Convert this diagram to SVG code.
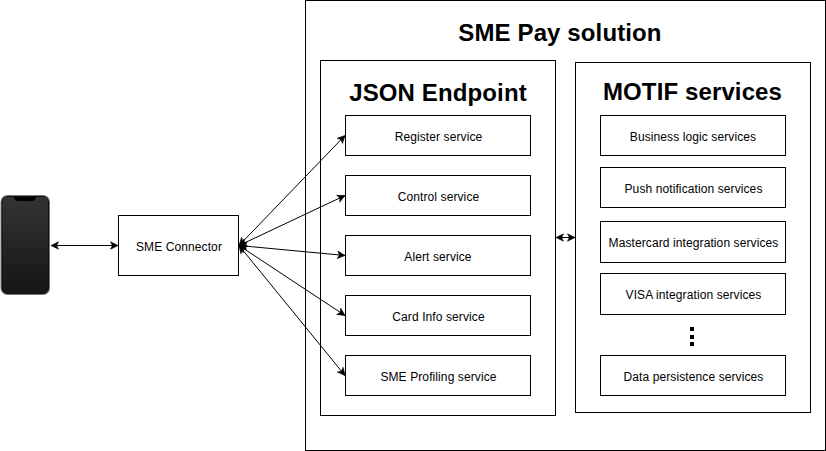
<svg xmlns="http://www.w3.org/2000/svg" width="826" height="451" viewBox="0 0 826 451">
<style>
rect.b{fill:#fff;stroke:#000;stroke-width:1}
text{font-family:"Liberation Sans",Arial,sans-serif;fill:#000;text-anchor:middle}
.s{font-size:12px;letter-spacing:.1px}
.h{font-size:24px;font-weight:bold;letter-spacing:.12px}
.c line{stroke:#000;stroke-width:1;fill:none;marker-end:url(#a);marker-start:url(#a)}
</style>
<defs>
<marker id="a" markerUnits="userSpaceOnUse" markerWidth="10" markerHeight="10" refX="9" refY="4.5" orient="auto-start-reverse" viewBox="0 0 10 9"><path d="M1.5 .8L9 4.5L1.5 8.2L3.4 4.5Z" fill="#000" stroke="#000" stroke-width=".6"/></marker>
<linearGradient id="p" x1="0" y1="0" x2="0" y2="1"><stop offset="0" stop-color="#333"/><stop offset="1" stop-color="#161616"/></linearGradient>
</defs>
<rect width="826" height="451" fill="#fff"/>
<g id="solution"><rect class="b" x="305.500" y="0.500" width="520" height="450"/><text class="h" x="560" y="41">SME Pay solution</text></g>
<g id="json-endpoint"><rect class="b" x="320.500" y="60.500" width="235" height="355"/><text class="h" x="438" y="101">JSON Endpoint</text></g>
<g id="motif-services"><rect class="b" x="575.500" y="62.500" width="235" height="350"/><text class="h" x="692.500" y="100">MOTIF services</text></g>
<g id="register"><rect class="b" x="345.500" y="115.500" width="185" height="40"/><text class="s" x="438.500" y="141">Register service</text></g>
<g id="control"><rect class="b" x="345.500" y="175.500" width="185" height="40"/><text class="s" x="438.500" y="201">Control service</text></g>
<g id="alert"><rect class="b" x="345.500" y="235.500" width="185" height="40"/><text class="s" x="438" y="261">Alert service</text></g>
<g id="card-info"><rect class="b" x="345.500" y="295.500" width="185" height="40"/><text class="s" x="438.500" y="321">Card Info service</text></g>
<g id="sme-profiling"><rect class="b" x="345.500" y="355.500" width="185" height="40"/><text class="s" x="438.500" y="381">SME Profiling service</text></g>
<g id="business-logic"><rect class="b" x="600.500" y="115.500" width="185" height="40"/><text class="s" x="693" y="141">Business logic services</text></g>
<g id="push"><rect class="b" x="600.500" y="167.500" width="185" height="40"/><text class="s" x="693.500" y="193">Push notification services</text></g>
<g id="mastercard"><rect class="b" x="600.500" y="221.500" width="185" height="41"/><text class="s" x="693.500" y="247">Mastercard integration services</text></g>
<g id="visa"><rect class="b" x="600.500" y="273.500" width="185" height="41"/><text class="s" x="693.500" y="299">VISA integration services</text></g>
<g id="ellipsis" fill="#000"><rect x="690" y="327" width="4" height="4"/><rect x="690" y="335" width="4" height="4"/><rect x="690" y="342" width="4" height="4"/></g>
<g id="data-persistence"><rect class="b" x="600.500" y="355.500" width="185" height="40"/><text class="s" x="693.500" y="381">Data persistence services</text></g>
<g id="sme-connector"><rect class="b" x="118.500" y="215.500" width="120" height="60"/><text class="s" x="179" y="251">SME Connector</text></g>
<g id="phone"><rect x="0.500" y="195" width="49.500" height="100" rx="7" fill="#777"/><rect x="2" y="196.500" width="46.500" height="97" rx="5.500" fill="url(#p)" stroke="#111"/><path d="M14 197h22q-1 4-4 4H18q-3 0-4-4Z" fill="#000"/></g>
<g id="connectors" class="c">
<line x1="51" y1="245.500" x2="118" y2="245.500"/>
<line x1="239" y1="245.500" x2="345" y2="135.500"/>
<line x1="239" y1="245.500" x2="345" y2="195.500"/>
<line x1="239" y1="245.500" x2="345" y2="255.500"/>
<line x1="239" y1="245.500" x2="345" y2="315.500"/>
<line x1="239" y1="245.500" x2="345" y2="375.500"/>
<line x1="556" y1="237.500" x2="575" y2="237.500"/>
</g>
</svg>
